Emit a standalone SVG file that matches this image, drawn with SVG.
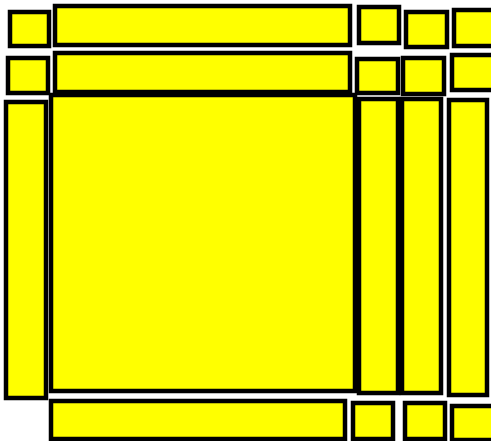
<svg xmlns="http://www.w3.org/2000/svg" width="491" height="441" viewBox="0 0 491 441">
<style>
.b{fill:#ffff00;stroke:#000;stroke-width:4.5}
</style>
<rect width="491" height="441" fill="#ffffff"/>
<g id="r1"><rect class="b" x="10" y="12" width="39" height="34"/></g>
<g id="r2"><rect class="b" x="55" y="6" width="295" height="39"/></g>
<g id="r3"><rect class="b" x="359" y="7" width="40" height="36"/></g>
<g id="r4"><rect class="b" x="406" y="12" width="41" height="35"/></g>
<g id="r5"><rect class="b" x="454" y="10" width="44" height="36"/></g>
<g id="r6"><rect class="b" x="8" y="58" width="40" height="35"/></g>
<g id="r7"><rect class="b" x="55" y="53" width="295" height="39"/></g>
<g id="r8"><rect class="b" x="357" y="59" width="41" height="34"/></g>
<g id="r9"><rect class="b" x="403" y="58" width="41" height="36"/></g>
<g id="r10"><rect class="b" x="452" y="55" width="46" height="35"/></g>
<g id="r11"><rect class="b" x="6" y="102" width="40" height="296"/></g>
<g id="r12"><rect class="b" x="51" y="95" width="304" height="296"/></g>
<g id="r13"><rect class="b" x="359" y="99" width="39" height="294"/></g>
<g id="r14"><rect class="b" x="402" y="99" width="39" height="294"/></g>
<g id="r15"><rect class="b" x="449" y="100" width="38" height="295"/></g>
<g id="r16"><rect class="b" x="51" y="401" width="294" height="38"/></g>
<g id="r17"><rect class="b" x="353" y="403" width="40" height="36"/></g>
<g id="r18"><rect class="b" x="405" y="403" width="40" height="36"/></g>
<g id="r19"><rect class="b" x="452" y="406" width="46" height="34"/></g>
<g id="connectors"></g>
</svg>
